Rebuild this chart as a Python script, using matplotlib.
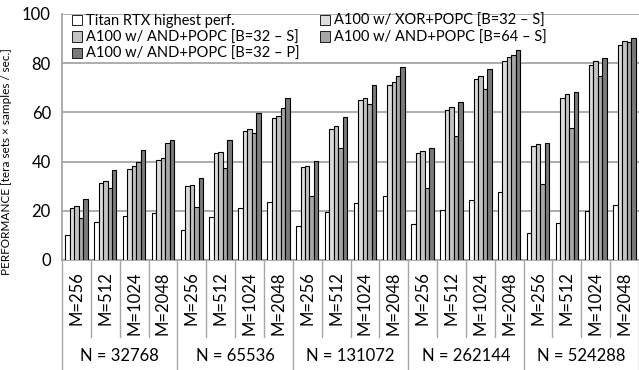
import numpy as np
import matplotlib
matplotlib.use('Agg')
import matplotlib.pyplot as plt

plt.rcParams['font.family'] = ['Lato', 'DejaVu Sans']

n_labels = ['N = 32768', 'N = 65536', 'N = 131072', 'N = 262144', 'N = 524288']
m_labels = ['M=256', 'M=512', 'M=1024', 'M=2048']

series_names = ['Titan RTX highest perf.',
                'A100 w/ XOR+POPC [B=32 \u2013 S]',
                'A100 w/ AND+POPC [B=32 \u2013 S]',
                'A100 w/ AND+POPC [B=64 \u2013 S]',
                'A100 w/ AND+POPC [B=32 \u2013 P]']

titan = [10.1, 15.4, 18.0, 19.3, 12.1, 17.6, 21.2, 23.5, 13.7, 19.5,
         23.1, 26.1, 14.8, 20.4, 24.5, 27.7, 11.0, 15.2, 20.0, 22.2]
xor_32s = [21.0, 31.3, 37.1, 40.7, 30.2, 43.4, 52.4, 57.8, 37.7, 53.4,
           64.9, 71.3, 43.4, 61.0, 73.7, 80.9, 46.4, 65.9, 79.4, 87.2]
and_32s = [21.9, 32.0, 38.1, 41.5, 30.6, 43.9, 53.1, 58.5, 38.3, 54.4,
           66.0, 72.4, 44.2, 62.2, 74.8, 82.5, 47.2, 67.5, 81.0, 89.1]
and_64s = [17.2, 29.1, 39.9, 47.5, 21.4, 37.4, 51.6, 61.7, 26.1, 45.6,
           63.3, 74.7, 29.4, 50.5, 69.5, 83.3, 30.7, 53.7, 74.6, 88.8]
and_32p = [24.6, 36.7, 44.9, 48.8, 33.2, 48.6, 59.6, 65.9, 40.2, 58.2,
           71.1, 78.5, 45.4, 64.3, 77.6, 85.3, 47.6, 68.3, 82.3, 90.4]

colors = ['#ffffff', '#dcdcdc', '#c3c3c3', '#a6a6a6', '#7a7a7a']
data = [titan, xor_32s, and_32s, and_64s, and_32p]

fig = plt.figure(figsize=(6.39, 3.70), dpi=100)
ax = fig.add_axes([62/639, 1 - 260/370, 577/639, 246/370])

ncat = len(n_labels) * len(m_labels)
x = np.arange(ncat)
w = 0.155
bars = []
for i, (vals, c, name) in enumerate(zip(data, colors, series_names)):
    b = ax.bar(x + (i - 2) * w, vals, w, color=c, edgecolor='black',
               linewidth=0.8, label=name, zorder=3)
    bars.append(b)

ax.set_xlim(-0.5, ncat - 0.5)
ax.set_ylim(0, 100)
ax.set_yticks([0, 20, 40, 60, 80, 100])
ax.tick_params(axis='y', length=0, labelsize=12, pad=8)
ax.yaxis.grid(True, color='#a6a6a6', linewidth=1.3, zorder=0)
for s in ['top', 'right']:
    ax.spines[s].set_visible(False)
ax.spines['left'].set_color('#a6a6a6')
ax.spines['bottom'].set_color('#a6a6a6')
ax.spines['left'].set_linewidth(1.3)
ax.spines['bottom'].set_linewidth(1.3)

ax.set_xticks(x)
ax.set_xticklabels(m_labels * len(n_labels), rotation=90, fontsize=12)
ax.tick_params(axis='x', length=0, pad=8)

# separator lines below the axis
trans = ax.get_xaxis_transform()
for k in range(ncat + 1):
    bottom = -0.447 if k % 4 == 0 else -0.315
    ax.plot([k - 0.5, k - 0.5], [0, bottom], color='#a6a6a6', lw=1.0,
            transform=trans, clip_on=False)
for g, lab in enumerate(n_labels):
    ax.text(g * 4 + 1.5, -0.39, lab, transform=trans, ha='center',
            va='center', fontsize=12)

ax.set_ylabel('PERFORMANCE [tera sets \u00d7 samples / sec.]', fontsize=8.5)
ax.yaxis.set_label_coords(-0.087, 0.40)

order = [0, 2, 4, 1, 3]
lg = ax.legend([bars[i] for i in order], [series_names[i] for i in order],
               ncol=2, loc='upper left', bbox_to_anchor=(0.015, 1.005),
               frameon=False, fontsize=10.5, handlelength=0.7, handleheight=0.7,
               handletextpad=0.25, labelspacing=0.15, columnspacing=1.4,
               borderaxespad=0.0, borderpad=0.1)
for h in lg.legend_handles:
    h.set_linewidth(0.6)

plt.savefig('out.png', dpi=100)
